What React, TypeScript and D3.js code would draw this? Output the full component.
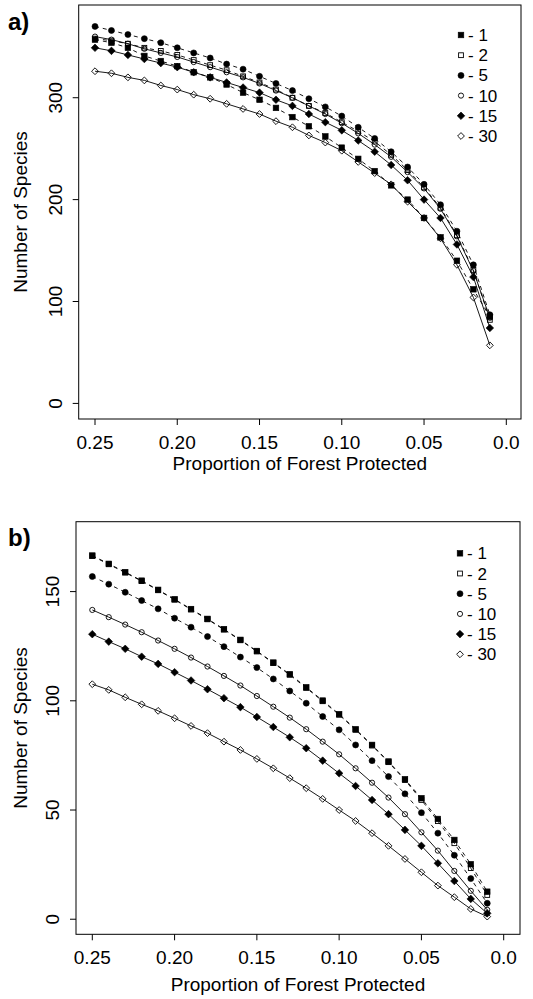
import * as d3 from "d3";

// proportion of forest protected (x), shared by both panels
const proportion = [0.25, 0.24, 0.23, 0.22, 0.21, 0.2, 0.19, 0.18, 0.17, 0.16, 0.15, 0.14, 0.13,
  0.12, 0.11, 0.1, 0.09, 0.08, 0.07, 0.06, 0.05, 0.04, 0.03, 0.02, 0.01];

const seriesNames = ["1", "2", "5", "10", "15", "30"];
const xTicks = [0.25, 0.2, 0.15, 0.1, 0.05, 0.0];

// panel a
const a1 = [357, 354, 349, 341, 336, 331, 325, 320, 313, 305, 298, 290, 281, 272, 262, 251, 240, 228, 214, 200, 182, 163, 140, 112, 85];
const a2 = [358, 356, 353, 349, 346, 342, 337, 332, 327, 321, 315, 308, 300, 292, 285, 276, 267, 257, 244, 229, 212, 192, 165, 131, 82];
const a5 = [370, 366, 362, 358, 354, 349, 344, 339, 333, 328, 321, 314, 307, 299, 291, 282, 271, 260, 247, 232, 215, 195, 169, 136, 87];
const a10 = [360, 357, 353, 348, 344, 340, 335, 330, 325, 320, 314, 307, 300, 292, 284, 275, 265, 254, 242, 227, 211, 191, 164, 130, 84];
const a15 = [349, 346, 342, 338, 334, 330, 325, 320, 315, 310, 305, 298, 292, 284, 276, 268, 258, 247, 234, 219, 200, 182, 156, 124, 74];
const a30 = [326, 324, 320, 317, 312, 308, 303, 299, 294, 289, 284, 277, 271, 263, 256, 248, 237, 226, 215, 198, 182, 162, 136, 104, 57];
const aTicks = [0, 100, 200, 300];

// panel b
const b1 = [166.5, 162.7, 158.9, 155.0, 150.8, 146.5, 142.0, 137.5, 132.8, 127.9, 122.8, 117.5, 112.2, 106.2, 100.1, 93.9, 87.0, 79.8, 72.2, 64.1, 55.4, 45.9, 36.3, 25.2, 12.6];
const b2 = [166.3, 162.5, 158.7, 154.8, 150.6, 146.3, 141.8, 137.3, 132.6, 127.7, 122.6, 117.3, 111.9, 105.9, 99.8, 93.6, 86.7, 79.5, 71.9, 63.7, 54.6, 44.9, 34.8, 23.4, 11.1];
const b5 = [156.9, 153.4, 149.7, 145.9, 142.1, 137.8, 133.7, 129.4, 124.8, 120.0, 115.2, 110.0, 104.5, 98.9, 92.8, 86.7, 79.8, 72.6, 65.3, 57.4, 48.8, 39.4, 29.3, 18.6, 7.3];
const b10 = [141.6, 138.3, 134.9, 131.4, 127.6, 123.8, 119.8, 115.7, 111.4, 107.0, 102.2, 97.3, 92.3, 87.0, 81.3, 75.5, 69.1, 62.5, 55.7, 48.1, 39.8, 31.4, 22.1, 13.0, 4.3];
const b15 = [130.5, 127.1, 123.8, 120.2, 116.9, 113.1, 109.3, 105.3, 101.2, 97.1, 92.6, 88.0, 83.3, 78.3, 72.6, 66.8, 61.0, 54.6, 48.1, 40.9, 33.6, 25.6, 17.5, 9.3, 2.7];
const b30 = [107.6, 105.0, 101.6, 98.4, 95.4, 92.0, 88.5, 85.2, 81.3, 77.5, 73.4, 69.1, 64.6, 60.0, 55.1, 50.0, 45.0, 39.4, 33.6, 27.6, 21.5, 15.4, 10.1, 4.7, 1.2];
const bTicks = [0, 50, 100, 150];

const shapes = ["fsq", "osq", "fci", "oci", "fdi", "odi"];
const dashed = [true, true, true, false, false, false];
const FONT = "'Liberation Sans', Arial, Helvetica, sans-serif";

function Marker({ shape, x, y }: { shape: string; x: number; y: number }) {
  const filled = shape[0] === "f";
  const fill = filled ? "#000" : "none";
  const sw = filled ? 0.6 : 0.9;
  if (shape.endsWith("sq")) {
    const s = filled ? 5.6 : 4.8;
    return <rect x={x - s / 2} y={y - s / 2} width={s} height={s} fill={fill} stroke="#000" strokeWidth={sw} />;
  }
  if (shape.endsWith("ci")) {
    return <circle cx={x} cy={y} r={filled ? 3 : 2.6} fill={fill} stroke="#000" strokeWidth={sw} />;
  }
  const d = filled ? 3.8 : 3.4;
  return <path d={`M${x},${y - d}L${x + d},${y}L${x},${y + d}L${x - d},${y}Z`} fill={fill} stroke="#000" strokeWidth={sw} />;
}

type PanelProps = {
  label: string;
  series: number[][];
  yTicks: number[];
  yDomain: [number, number];
  box: { left: number; right: number; top: number; bottom: number };
  xRange: [number, number];
  legendX: number;
  legendY: number;
  titleY: number;
  labelY: number;
};

function Panel({ label, series, yTicks, yDomain, box, xRange, legendX, legendY, titleY, labelY }: PanelProps) {
  const x = d3.scaleLinear([0.25, 0], xRange);
  const y = d3.scaleLinear(yDomain, [box.bottom, box.top]);
  const line = d3.line<number>((_, i) => x(proportion[i]), (d) => y(d));
  const midY = (box.top + box.bottom) / 2;
  return (
    <g fontFamily={FONT}>
      <text x={8} y={labelY} fontSize={24} fontWeight="bold">{label}</text>
      <rect x={box.left} y={box.top} width={box.right - box.left} height={box.bottom - box.top}
        fill="none" stroke="#000" strokeWidth={1} />
      {xTicks.map((t) => (
        <g key={t}>
          <line x1={x(t)} x2={x(t)} y1={box.bottom} y2={box.bottom + 6} stroke="#000" />
          <text x={x(t)} y={box.bottom + 30} fontSize={19} textAnchor="middle">{t === 0 ? "0.0" : d3.format(".2f")(t)}</text>
        </g>
      ))}
      {yTicks.map((t) => (
        <g key={t}>
          <line x1={box.left - 6} x2={box.left} y1={y(t)} y2={y(t)} stroke="#000" />
          <text transform={`translate(${box.left - 17},${y(t)}) rotate(-90)`} fontSize={19} textAnchor="middle">{t}</text>
        </g>
      ))}
      <text x={(box.left + box.right) / 2} y={titleY} fontSize={19} textAnchor="middle">Proportion of Forest Protected</text>
      <text transform={`translate(27,${midY}) rotate(-90)`} fontSize={19} textAnchor="middle">Number of Species</text>
      {series.map((s, k) => (
        <path key={"l" + k} d={line(s) ?? ""} fill="none" stroke="#000" strokeWidth={0.9}
          strokeDasharray={dashed[k] ? "4,4" : undefined} />
      ))}
      {series.map((s, k) => (
        <g key={"m" + k}>
          {s.map((v, i) => <Marker key={i} shape={shapes[k]} x={x(proportion[i])} y={y(v)} />)}
        </g>
      ))}
      {seriesNames.map((n, k) => (
        <g key={n}>
          <Marker shape={shapes[k]} x={legendX} y={legendY + k * 20.2} />
          <text x={legendX + 7} y={legendY + k * 20.2 + 6} fontSize={17}>- {n}</text>
        </g>
      ))}
    </g>
  );
}

export default function App() {
  return (
    <svg width={533} height={999} style={{ position: "absolute", left: 0, top: 0, background: "#fff" }}>
      <Panel label="a)" series={[a1, a2, a5, a10, a15, a30]} yTicks={aTicks} yDomain={[-15.3, 391]}
        box={{ left: 78.7, right: 521, top: 5, bottom: 419 }} xRange={[95, 506.3]}
        legendX={461} legendY={35} titleY={470} labelY={30} />
      <Panel label="b)" series={[b1, b2, b5, b10, b15, b30]} yTicks={bTicks} yDomain={[-6.9, 182]}
        box={{ left: 76, right: 520, top: 521.7, bottom: 934.3 }} xRange={[92.3, 503.7]}
        legendX={460} legendY={553.3} titleY={991} labelY={546} />
    </svg>
  );
}
